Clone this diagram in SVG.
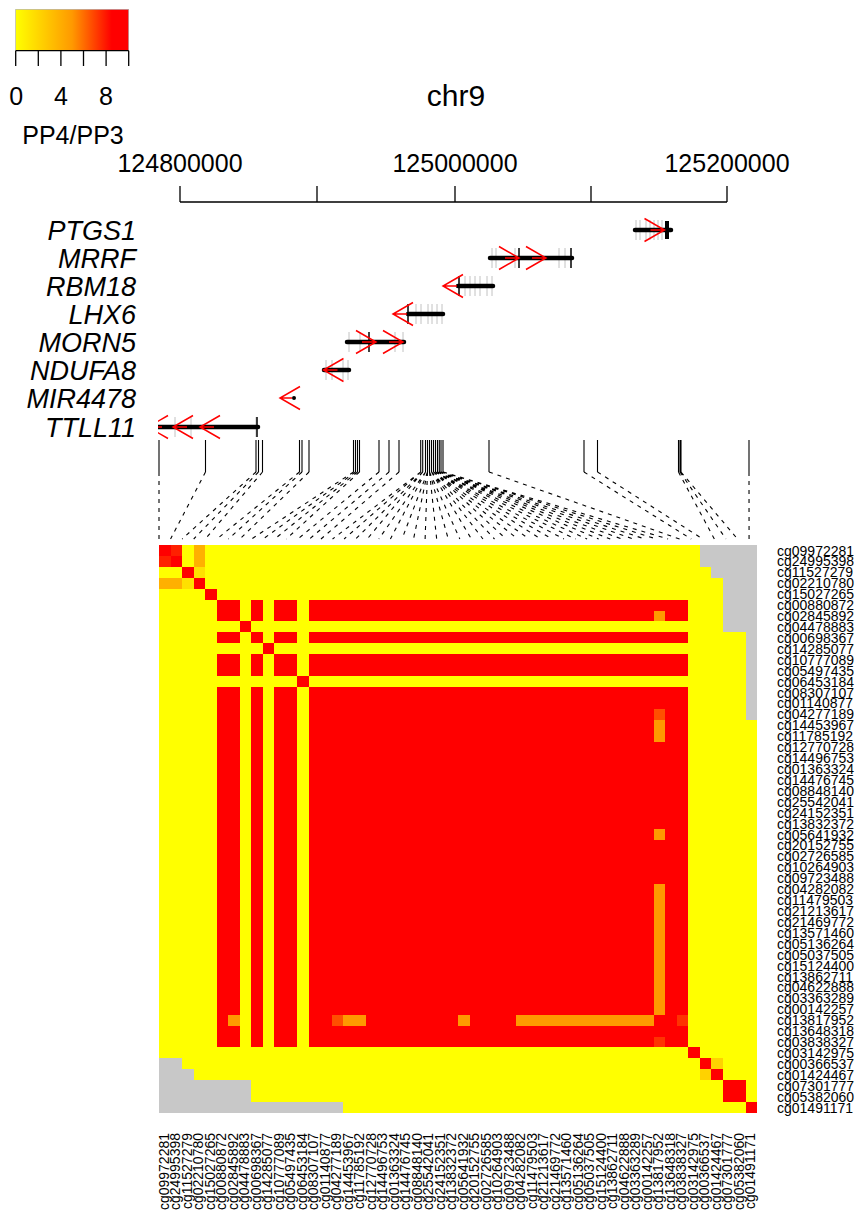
<svg xmlns="http://www.w3.org/2000/svg" width="856" height="1214" viewBox="0 0 856 1214">
<style>
text{font-family:"Liberation Sans",Arial,sans-serif;fill:#000}
.big{font-size:25px}
.ttl{font-size:30px;text-anchor:middle}
.mid{text-anchor:middle}
.gene{font-size:27px;font-style:italic;text-anchor:end}
.cg{font-size:14px}
.cgb{font-size:14px;text-anchor:end}
.gl{stroke:#000;stroke-width:4.5;stroke-linecap:round;fill:none}
.tk{stroke:#000;stroke-width:1.5;fill:none}
.gt{stroke:#999;stroke-width:1;opacity:0.6;fill:none}
.arr{stroke:#f00;stroke-width:1.5;fill:none}
.ax{stroke:#000;stroke-width:1.3;fill:none}
.y{fill:#ff0}.r{fill:#f00}.o{fill:#ff9900}.g{fill:#c8c8c8}
</style>
<defs>
<linearGradient id="heat" x1="0" x2="1" y1="0" y2="0">
<stop offset="0" stop-color="#ffff00"/>
<stop offset="0.5" stop-color="#ff9900"/>
<stop offset="0.85" stop-color="#ff0000"/>
<stop offset="1" stop-color="#ff0000"/>
</linearGradient>
<clipPath id="track"><rect x="158" y="200" width="600" height="250"/></clipPath>
</defs>

<g id="legend">
<rect x="15.7" y="9.3" width="113" height="41.4" fill="url(#heat)" stroke="#aaa" stroke-width="0.6"/>
<path class="ax" d="M15.7 50.7H128.7M15.7 50.7V66M38.3 50.7V66M60.9 50.7V66M83.5 50.7V66M106.1 50.7V66M128.7 50.7V66"/>
<text class="big mid" x="16.3" y="105">0</text>
<text class="big mid" x="61" y="105">4</text>
<text class="big mid" x="106" y="105">8</text>
<text class="big mid" x="73" y="144">PP4/PP3</text>
</g>

<g id="axis">
<text class="ttl" x="456" y="106">chr9</text>
<text class="big mid" x="180" y="172">124800000</text>
<text class="big mid" x="455" y="172">125000000</text>
<text class="big mid" x="727" y="172">125200000</text>
<path class="ax" d="M180 202H727M180 202V186M317 202V186M455 202V186M591 202V186M727 202V186"/>
</g>

<g id="genes" clip-path="url(#track)">
<g id="gene-PTGS1">
<path class="gt" d="M636 220V240M640 220V240M646 220V240M650 220V240M654 220V240M658 220V240M662 220V240"/>
<path class="gl" d="M635 230H671"/>
<path d="M667 221V239" stroke="#000" stroke-width="4"/>
<path class="arr" d="M644.5 218.5L664.5 230L644.5 241.5M650.5 230H664.5"/>
</g>
<g id="gene-MRRF">
<path class="gt" d="M492 248V268M496 248V268M515 248V268M559 248V268M565 248V268"/>
<path class="gl" d="M490 258H572"/>
<path class="tk" d="M519 248V268M571 248V268"/>
<path class="arr" d="M499 246.5L519 258L499 269.5M505 258H519M526 246.5L546 258L526 269.5M532 258H546"/>
</g>
<g id="gene-RBM18">
<path class="gt" d="M465 276V296M470 276V296M475 276V296M480 276V296M487 276V296M492 276V296"/>
<path class="gl" d="M458 286H493"/>
<path class="tk" d="M459 276V296"/>
<path class="arr" d="M463 274.5L443 286L463 297.5M443 286H457"/>
</g>
<g id="gene-LHX6">
<path class="gt" d="M416 304V324M421 304V324M428 304V324M432 304V324M437 304V324M442 304V324"/>
<path class="gl" d="M408 314H443"/>
<path class="tk" d="M408 304V324"/>
<path class="arr" d="M413 302.5L393 314L413 325.5M393 314H407"/>
</g>
<g id="gene-MORN5">
<path class="gt" d="M349 332V352M360 332V352M395 332V352M403 332V352"/>
<path class="gl" d="M347 342H404"/>
<path class="tk" d="M369 332V352"/>
<path class="arr" d="M356 330.5L376 342L356 353.5M362 342H376M383 330.5L403 342L383 353.5M389 342H403"/>
</g>
<g id="gene-NDUFA8">
<path class="gt" d="M326 360V380M332 360V380M343 360V380M348 360V380"/>
<path class="gl" d="M324 370H349"/>
<path class="arr" d="M343.5 358.5L323.5 370L343.5 381.5M323.5 370H337.5"/>
</g>
<g id="gene-MIR4478">
<circle cx="294" cy="398" r="2" fill="#000"/>
<path class="arr" d="M300 386.5L280 398L300 409.5M280 398H292"/>
</g>
<g id="gene-TTLL11">
<path class="gt" d="M175 417V437M191 417V437M256 417V437"/>
<path class="gl" d="M150 427H258"/>
<path class="tk" d="M257 417V437"/>
<path class="arr" d="M168 415.5L148 427L168 438.5M148 427H162M193 415.5L173 427L193 438.5M173 427H187M220 415.5L200 427L220 438.5M200 427H214"/>
</g>
</g>
<g id="gene-labels">
<text class="gene" x="136" y="239.5">PTGS1</text>
<text class="gene" x="136" y="267.5">MRRF</text>
<text class="gene" x="136" y="295.5">RBM18</text>
<text class="gene" x="136" y="323.5">LHX6</text>
<text class="gene" x="136" y="351.5">MORN5</text>
<text class="gene" x="136" y="379.5">NDUFA8</text>
<text class="gene" x="136" y="407.5">MIR4478</text>
<text class="gene" x="136" y="436.5">TTLL11</text>
</g>

<g id="connectors" fill="none" stroke="#000" stroke-width="1.1">
<path d="M159 440V472M205.5 440V472M256 440V472M258.5 440V472M262.5 440V472M299.5 440V472M302 440V472M309 440V472M353.5 440V472M355.5 440V472M357.5 440V472M359.5 440V472M379 440V472M389 440V472M399 440V472M420.7 440V472M422.7 440V472M425.5 440V472M427.5 440V472M429.5 440V472M431.5 440V472M433.5 440V472M435.5 440V472M437.5 440V472M439.3 440V472M441 440V472M443 440V472M489 440V472M584 440V472M597.5 440V472M678.5 440V472M680 440V472M681 440V472M749 440V472"/>
<path stroke-dasharray="4,5" d="M159 472L159 539M205.5 472L170.57 539M256 472L182.14 539M258.5 472L193.71 539M262.5 472L205.28 539M299.5 472L216.85 539M302 472L228.42 539M309 472L239.99 539M353.5 472L251.56 539M355.5 472L263.13 539M357.5 472L274.7 539M359.5 472L286.27 539M379 472L297.84 539M389 472L309.41 539M399 472L320.98 539M420.7 472L332.55 539M420.7 472L344.12 539M422.7 472L355.69 539M422.7 472L367.26 539M425.5 472L378.83 539M425.5 472L390.4 539M427.5 472L401.97 539M427.5 472L413.54 539M427.5 472L425.11 539M429.5 472L436.68 539M429.5 472L448.25 539M429.5 472L459.82 539M431.5 472L471.39 539M431.5 472L482.96 539M431.5 472L494.53 539M433.5 472L506.1 539M433.5 472L517.67 539M433.5 472L529.24 539M435.5 472L540.81 539M435.5 472L552.38 539M435.5 472L563.95 539M437.5 472L575.52 539M437.5 472L587.09 539M439.3 472L598.66 539M439.3 472L610.23 539M439.3 472L621.8 539M441 472L633.37 539M441 472L644.94 539M443 472L656.51 539M443 472L668.08 539M489 472L679.65 539M584 472L691.22 539M597.5 472L702.79 539M678.5 472L714.36 539M680 472L725.93 539M681 472L737.5 539M749 472L749.07 539"/>
</g>

<g id="heatmap" transform="translate(159,545) scale(11.5,10.923)" shape-rendering="crispEdges">
<rect class="y" width="52" height="52"/>
<polygon class="g" points="47,0 52,0 52,16 51,16 51,8 49,8 49,3 48,3 48,2 47,2"/>
<polygon class="g" points="0,47 2,47 2,48 3,48 3,49 8,49 8,51 16,51 16,52 0,52"/>
<rect class="r" x="0" y="0" width="1" height="1"/>
<rect class="r" x="1" y="1" width="1" height="1"/>
<rect fill="#ff2000" x="1" y="0" width="1" height="1"/>
<rect fill="#ff2000" x="0" y="1" width="1" height="1"/>
<rect fill="#ffb000" x="3" y="0" width="1" height="2"/>
<rect fill="#ffb000" x="0" y="3" width="2" height="1"/>
<rect fill="#ffe000" x="3" y="2" width="1" height="1"/>
<rect fill="#ffe000" x="2" y="3" width="1" height="1"/>
<rect class="r" x="2" y="2" width="1" height="1"/>
<rect class="r" x="3" y="3" width="1" height="1"/>
<rect class="r" x="4" y="4" width="1" height="1"/>
<rect class="r" x="5" y="5" width="41" height="41"/>
<rect class="y" x="7" y="5" width="1" height="41"/>
<rect class="y" x="9" y="5" width="1" height="41"/>
<rect class="y" x="12" y="5" width="1" height="41"/>
<rect class="y" x="5" y="7" width="41" height="1"/>
<rect class="y" x="5" y="9" width="41" height="1"/>
<rect class="y" x="5" y="12" width="41" height="1"/>
<rect class="r" x="7" y="7" width="1" height="1"/>
<rect class="r" x="9" y="9" width="1" height="1"/>
<rect class="r" x="12" y="12" width="1" height="1"/>
<rect class="o" x="43" y="6" width="1" height="1"/>
<rect class="o" x="6" y="43" width="1" height="1"/>
<rect fill="#ff5000" x="43" y="15" width="1" height="1"/>
<rect fill="#ff5000" x="15" y="43" width="1" height="1"/>
<rect class="o" x="43" y="16" width="1" height="2"/>
<rect class="o" x="16" y="43" width="2" height="1"/>
<rect class="o" x="43" y="26" width="1" height="1"/>
<rect class="o" x="26" y="43" width="1" height="1"/>
<rect class="o" x="43" y="31" width="1" height="12"/>
<rect class="o" x="31" y="43" width="12" height="1"/>
<rect fill="#ff3300" x="45" y="43" width="1" height="1"/>
<rect fill="#ff3300" x="43" y="45" width="1" height="1"/>
<rect class="r" x="46" y="46" width="1" height="1"/>
<rect class="r" x="47" y="47" width="1" height="1"/>
<rect class="r" x="48" y="48" width="1" height="1"/>
<rect fill="#ffd200" x="48" y="47" width="1" height="1"/>
<rect fill="#ffd200" x="47" y="48" width="1" height="1"/>
<rect class="r" x="49" y="49" width="2" height="2"/>
<rect class="r" x="51" y="51" width="1" height="1"/>
</g>

<g id="row-labels">
<text class="cg" x="777" y="555.5">cg09972281</text>
<text class="cg" x="777" y="566.4">cg24995398</text>
<text class="cg" x="777" y="577.3">cg11527279</text>
<text class="cg" x="777" y="588.3">cg02210780</text>
<text class="cg" x="777" y="599.2">cg15027265</text>
<text class="cg" x="777" y="610.1">cg00880872</text>
<text class="cg" x="777" y="621.0">cg02845892</text>
<text class="cg" x="777" y="632.0">cg04478883</text>
<text class="cg" x="777" y="642.9">cg00698367</text>
<text class="cg" x="777" y="653.8">cg14285077</text>
<text class="cg" x="777" y="664.7">cg10777089</text>
<text class="cg" x="777" y="675.7">cg05497435</text>
<text class="cg" x="777" y="686.6">cg06453184</text>
<text class="cg" x="777" y="697.5">cg08307107</text>
<text class="cg" x="777" y="708.4">cg01140877</text>
<text class="cg" x="777" y="719.3">cg04277189</text>
<text class="cg" x="777" y="730.3">cg14453967</text>
<text class="cg" x="777" y="741.2">cg11785192</text>
<text class="cg" x="777" y="752.1">cg12770728</text>
<text class="cg" x="777" y="763.0">cg14496753</text>
<text class="cg" x="777" y="773.9">cg01363324</text>
<text class="cg" x="777" y="784.9">cg14476745</text>
<text class="cg" x="777" y="795.8">cg08848140</text>
<text class="cg" x="777" y="806.7">cg25542041</text>
<text class="cg" x="777" y="817.6">cg24152351</text>
<text class="cg" x="777" y="828.6">cg13832372</text>
<text class="cg" x="777" y="839.5">cg05641932</text>
<text class="cg" x="777" y="850.4">cg20152755</text>
<text class="cg" x="777" y="861.3">cg02726585</text>
<text class="cg" x="777" y="872.3">cg10264903</text>
<text class="cg" x="777" y="883.2">cg09723488</text>
<text class="cg" x="777" y="894.1">cg04282082</text>
<text class="cg" x="777" y="905.0">cg11479503</text>
<text class="cg" x="777" y="915.9">cg21213617</text>
<text class="cg" x="777" y="926.9">cg21469772</text>
<text class="cg" x="777" y="937.8">cg13571460</text>
<text class="cg" x="777" y="948.7">cg05136264</text>
<text class="cg" x="777" y="959.6">cg05037505</text>
<text class="cg" x="777" y="970.5">cg15124400</text>
<text class="cg" x="777" y="981.5">cg13862711</text>
<text class="cg" x="777" y="992.4">cg04622888</text>
<text class="cg" x="777" y="1003.3">cg03363289</text>
<text class="cg" x="777" y="1014.2">cg00142257</text>
<text class="cg" x="777" y="1025.2">cg13817952</text>
<text class="cg" x="777" y="1036.1">cg13648318</text>
<text class="cg" x="777" y="1047.0">cg03838327</text>
<text class="cg" x="777" y="1057.9">cg03142975</text>
<text class="cg" x="777" y="1068.8">cg00366537</text>
<text class="cg" x="777" y="1079.8">cg01424467</text>
<text class="cg" x="777" y="1090.7">cg07301777</text>
<text class="cg" x="777" y="1101.6">cg05382060</text>
<text class="cg" x="777" y="1112.5">cg01491171</text>
</g>

<g id="col-labels">
<text class="cgb" transform="translate(168.75,1133) rotate(-90)">cg09972281</text>
<text class="cgb" transform="translate(180.25,1133) rotate(-90)">cg24995398</text>
<text class="cgb" transform="translate(191.75,1133) rotate(-90)">cg11527279</text>
<text class="cgb" transform="translate(203.25,1133) rotate(-90)">cg02210780</text>
<text class="cgb" transform="translate(214.75,1133) rotate(-90)">cg15027265</text>
<text class="cgb" transform="translate(226.25,1133) rotate(-90)">cg00880872</text>
<text class="cgb" transform="translate(237.75,1133) rotate(-90)">cg02845892</text>
<text class="cgb" transform="translate(249.25,1133) rotate(-90)">cg04478883</text>
<text class="cgb" transform="translate(260.75,1133) rotate(-90)">cg00698367</text>
<text class="cgb" transform="translate(272.25,1133) rotate(-90)">cg14285077</text>
<text class="cgb" transform="translate(283.75,1133) rotate(-90)">cg10777089</text>
<text class="cgb" transform="translate(295.25,1133) rotate(-90)">cg05497435</text>
<text class="cgb" transform="translate(306.75,1133) rotate(-90)">cg06453184</text>
<text class="cgb" transform="translate(318.25,1133) rotate(-90)">cg08307107</text>
<text class="cgb" transform="translate(329.75,1133) rotate(-90)">cg01140877</text>
<text class="cgb" transform="translate(341.25,1133) rotate(-90)">cg04277189</text>
<text class="cgb" transform="translate(352.75,1133) rotate(-90)">cg14453967</text>
<text class="cgb" transform="translate(364.25,1133) rotate(-90)">cg11785192</text>
<text class="cgb" transform="translate(375.75,1133) rotate(-90)">cg12770728</text>
<text class="cgb" transform="translate(387.25,1133) rotate(-90)">cg14496753</text>
<text class="cgb" transform="translate(398.75,1133) rotate(-90)">cg01363324</text>
<text class="cgb" transform="translate(410.25,1133) rotate(-90)">cg14476745</text>
<text class="cgb" transform="translate(421.75,1133) rotate(-90)">cg08848140</text>
<text class="cgb" transform="translate(433.25,1133) rotate(-90)">cg25542041</text>
<text class="cgb" transform="translate(444.75,1133) rotate(-90)">cg24152351</text>
<text class="cgb" transform="translate(456.25,1133) rotate(-90)">cg13832372</text>
<text class="cgb" transform="translate(467.75,1133) rotate(-90)">cg05641932</text>
<text class="cgb" transform="translate(479.25,1133) rotate(-90)">cg20152755</text>
<text class="cgb" transform="translate(490.75,1133) rotate(-90)">cg02726585</text>
<text class="cgb" transform="translate(502.25,1133) rotate(-90)">cg10264903</text>
<text class="cgb" transform="translate(513.75,1133) rotate(-90)">cg09723488</text>
<text class="cgb" transform="translate(525.25,1133) rotate(-90)">cg04282082</text>
<text class="cgb" transform="translate(536.75,1133) rotate(-90)">cg11479503</text>
<text class="cgb" transform="translate(548.25,1133) rotate(-90)">cg21213617</text>
<text class="cgb" transform="translate(559.75,1133) rotate(-90)">cg21469772</text>
<text class="cgb" transform="translate(571.25,1133) rotate(-90)">cg13571460</text>
<text class="cgb" transform="translate(582.75,1133) rotate(-90)">cg05136264</text>
<text class="cgb" transform="translate(594.25,1133) rotate(-90)">cg05037505</text>
<text class="cgb" transform="translate(605.75,1133) rotate(-90)">cg15124400</text>
<text class="cgb" transform="translate(617.25,1133) rotate(-90)">cg13862711</text>
<text class="cgb" transform="translate(628.75,1133) rotate(-90)">cg04622888</text>
<text class="cgb" transform="translate(640.25,1133) rotate(-90)">cg03363289</text>
<text class="cgb" transform="translate(651.75,1133) rotate(-90)">cg00142257</text>
<text class="cgb" transform="translate(663.25,1133) rotate(-90)">cg13817952</text>
<text class="cgb" transform="translate(674.75,1133) rotate(-90)">cg13648318</text>
<text class="cgb" transform="translate(686.25,1133) rotate(-90)">cg03838327</text>
<text class="cgb" transform="translate(697.75,1133) rotate(-90)">cg03142975</text>
<text class="cgb" transform="translate(709.25,1133) rotate(-90)">cg00366537</text>
<text class="cgb" transform="translate(720.75,1133) rotate(-90)">cg01424467</text>
<text class="cgb" transform="translate(732.25,1133) rotate(-90)">cg07301777</text>
<text class="cgb" transform="translate(743.75,1133) rotate(-90)">cg05382060</text>
<text class="cgb" transform="translate(755.25,1133) rotate(-90)">cg01491171</text>
</g>
</svg>
